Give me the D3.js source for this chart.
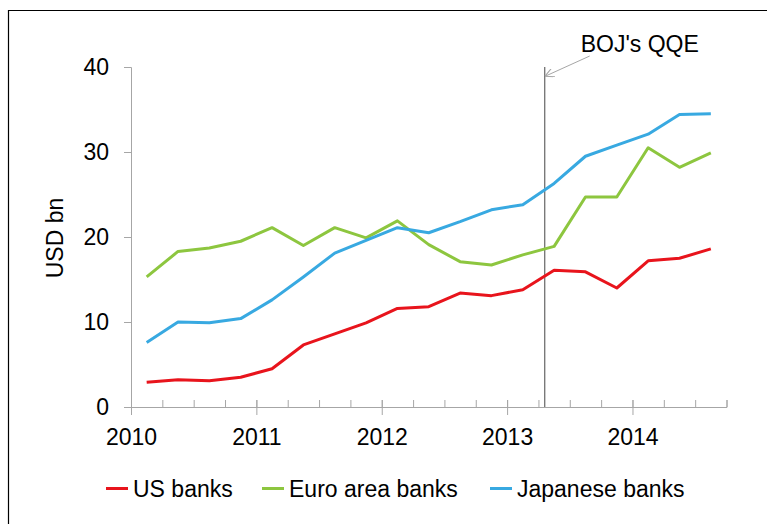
<!DOCTYPE html>
<html>
<head>
<meta charset="utf-8">
<script src="https://cdn.jsdelivr.net/npm/d3@7"></script>
<style>
  body { margin: 0; background: #fff; }
  text { font-family: "Liberation Sans", Arial, sans-serif; fill: #000; }
</style>
</head>
<body>
<div id="chart"></div>
<script>
// quarterly observations, plotted at mid-quarter
var quarters = d3.range(19).map(i => 2010 + (i + 0.5) / 4);
var usBanks = [2.9, 3.2, 3.1, 3.5, 4.5, 7.3, 8.6, 9.9, 11.6, 11.8, 13.4, 13.1, 13.8, 16.1, 15.9, 14.0, 17.2, 17.5, 18.6];
var euroBanks = [15.3, 18.3, 18.7, 19.5, 21.1, 19.0, 21.1, 19.9, 21.9, 19.1, 17.1, 16.7, 17.9, 18.9, 24.7, 24.7, 30.5, 28.2, 29.9];
var japanBanks = [7.6, 10.0, 9.9, 10.4, 12.6, 15.3, 18.1, 19.6, 21.1, 20.5, 21.8, 23.2, 23.8, 26.3, 29.5, 30.8, 32.1, 34.4, 34.5];
var yearTicks = [2010, 2011, 2012, 2013, 2014];
var yTicks = [0, 10, 20, 30, 40];
var qqeDate = 2013.3;

var series = [
  { name: "US banks", values: usBanks, color: "#e8141c" },
  { name: "Euro area banks", values: euroBanks, color: "#8dc63f" },
  { name: "Japanese banks", values: japanBanks, color: "#38a9e1" }
];

var svgWidth = 767, svgHeight = 524;
var margin = { top: 67, right: 40, bottom: 117, left: 131 };
var width = 595.5;
var height = svgHeight - margin.top - margin.bottom;

var svg = d3.select("#chart").append("svg")
  .attr("width", svgWidth)
  .attr("height", svgHeight);

// outer frame (left and top edges visible)
svg.append("path")
  .attr("d", "M8.5,524 V10.5 H767")
  .attr("fill", "none")
  .attr("stroke", "#000")
  .attr("stroke-width", 1.2);

var chartGroup = svg.append("g")
  .attr("transform", `translate(${margin.left}, ${margin.top})`);

var x = d3.scaleLinear().domain([2010, 2014.75]).range([0, width]);
var y = d3.scaleLinear().domain([0, 40]).range([height, 0]);

// y axis
var yAxis = chartGroup.append("g")
  .call(d3.axisLeft(y).tickValues(yTicks).tickSize(7).tickPadding(15));
yAxis.select(".domain").attr("stroke", "#a6a6a6");
yAxis.selectAll(".tick line").attr("stroke", "#a6a6a6");
yAxis.selectAll(".tick text").style("font-size", "23px");

// x axis: minor quarter ticks, longer year ticks
var quarterTicks = d3.range(0, 20).map(i => 2010 + i / 4);
var xAxis = chartGroup.append("g")
  .attr("transform", `translate(0, ${height})`)
  .call(d3.axisBottom(x).tickValues(quarterTicks).tickSize(-7).tickFormat(""));
xAxis.select(".domain").attr("stroke", "#a6a6a6");
xAxis.selectAll(".tick line").attr("stroke", "#a6a6a6");

var yearAxis = chartGroup.append("g")
  .attr("transform", `translate(0, ${height})`)
  .call(d3.axisBottom(x).tickValues(yearTicks).tickSize(8).tickPadding(14).tickFormat(d3.format("d")));
yearAxis.select(".domain").remove();
yearAxis.selectAll(".tick line").attr("stroke", "#a6a6a6").attr("y1", -7);
yearAxis.selectAll(".tick text").style("font-size", "23px");

// y axis title
svg.append("text")
  .attr("transform", "translate(63, 238) rotate(-90)")
  .attr("text-anchor", "middle")
  .style("font-size", "23px")
  .text("USD bn");

// BOJ QQE marker
chartGroup.append("line")
  .attr("x1", x(qqeDate)).attr("x2", x(qqeDate))
  .attr("y1", y(40)).attr("y2", height)
  .attr("stroke", "#707070")
  .attr("stroke-width", 1.3);

svg.append("defs").append("marker")
  .attr("id", "arrow")
  .attr("viewBox", "0 0 10 10")
  .attr("refX", 9).attr("refY", 5)
  .attr("markerWidth", 9).attr("markerHeight", 9)
  .attr("markerUnits", "userSpaceOnUse")
  .attr("orient", "auto")
  .append("path")
  .attr("d", "M0,0 L10,5 L0,10")
  .attr("fill", "none")
  .attr("stroke", "#a6a6a6")
  .attr("stroke-width", 1.2);

chartGroup.append("line")
  .attr("x1", x(qqeDate) + 45).attr("y1", y(40) - 11)
  .attr("x2", x(qqeDate) + 1).attr("y2", y(40) + 9)
  .attr("stroke", "#a6a6a6")
  .attr("stroke-width", 1)
  .attr("marker-end", "url(#arrow)");

chartGroup.append("text")
  .attr("x", x(qqeDate) + 36)
  .attr("y", y(40) - 15)
  .style("font-size", "23px")
  .text("BOJ's QQE");

// lines
var line = d3.line()
  .x((d, i) => x(quarters[i]))
  .y(d => y(d));

chartGroup.selectAll(".series")
  .data(series)
  .enter()
  .append("path")
  .attr("class", "series")
  .attr("fill", "none")
  .attr("stroke", d => d.color)
  .attr("stroke-width", 3)
  .attr("stroke-linejoin", "round")
  .attr("d", d => line(d.values));

// legend
var legendX = [106, 262, 490];
var legend = svg.append("g")
  .selectAll("g")
  .data(series)
  .enter()
  .append("g")
  .attr("transform", (d, i) => `translate(${legendX[i]}, 488.5)`);

legend.append("line")
  .attr("x1", 0).attr("x2", 22)
  .attr("stroke", d => d.color)
  .attr("stroke-width", 3);

legend.append("text")
  .attr("x", 27)
  .attr("y", 8.2)
  .style("font-size", "23px")
  .text(d => d.name);
</script>
</body>
</html>
